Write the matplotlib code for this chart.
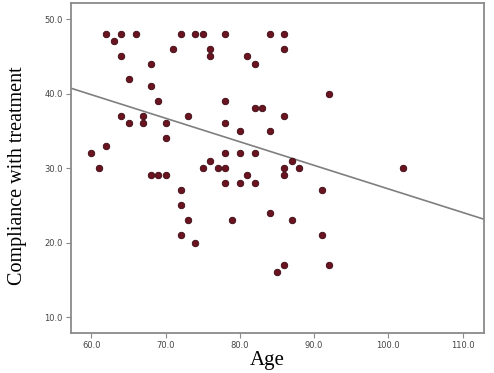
import numpy as np
import matplotlib
matplotlib.use("Agg")
import matplotlib.pyplot as plt

# Age and compliance values
age = [62, 63, 64, 64, 66, 65, 68, 68, 69, 71, 72, 74, 75, 76, 76, 78, 81, 78,
       64, 65, 67, 67, 70, 70, 73, 78, 80, 60, 61, 62, 68, 69, 70, 72, 75, 76,
       77, 78, 78, 80, 81, 78, 80, 84, 86, 86, 82, 92, 82, 83, 86, 84, 82, 87,
       88, 86, 86, 102, 82, 91, 84, 87, 91, 86, 85, 92, 72, 73, 72, 74, 79]
compliance = [48, 47, 48, 45, 48, 42, 44, 41, 39, 46, 48, 48, 48, 46, 45, 48, 45, 39,
              37, 36, 37, 36, 36, 34, 37, 36, 35, 32, 30, 33, 29, 29, 29, 27, 30, 31,
              30, 30, 32, 32, 29, 28, 28, 48, 48, 46, 44, 40, 38, 38, 37, 35, 32, 31,
              30, 30, 29, 30, 28, 27, 24, 23, 21, 17, 16, 17, 25, 23, 21, 20, 23]

# fit line as drawn in the original
fit_intercept = 58.8
fit_slope = -0.316

xticks = [60, 70, 80, 90, 100, 110]
yticks = [10, 20, 30, 40, 50]

fig = plt.figure(figsize=(4.94, 3.73), dpi=100)
ax = fig.add_axes([0.143, 0.106, 0.837, 0.887])

ax.scatter(age, compliance, s=22, color='#6b1421', edgecolors='#3a0a10',
           linewidths=0.6, zorder=3)

xlim = (57.2, 112.9)
xs = np.array(xlim)
ax.plot(xs, fit_intercept + fit_slope * xs, color='#7f7f7f', lw=1.2, zorder=2)

ax.set_xlim(*xlim)
ax.set_ylim(7.8, 52.2)
ax.set_xticks(xticks)
ax.set_yticks(yticks)
ax.set_xticklabels([f'{v:.1f}' for v in xticks])
ax.set_yticklabels([f'{v:.1f}' for v in yticks])

for s in ax.spines.values():
    s.set_color('#8a8a8a')
    s.set_linewidth(1.3)

ax.tick_params(direction='out', length=3.6, width=0.8, color='#8a8a8a',
               labelsize=6, labelcolor='#444444', pad=2)

fig.text(0.54, 0.022, 'Age', fontsize=15, family='Liberation Serif',
         ha='center', va='baseline')
fig.text(0.035, 0.53, 'Compliance with treatment', fontsize=14.5,
         family='Liberation Serif', rotation=90, ha='center', va='center')

fig.savefig('out.png', dpi=100, facecolor='white')
